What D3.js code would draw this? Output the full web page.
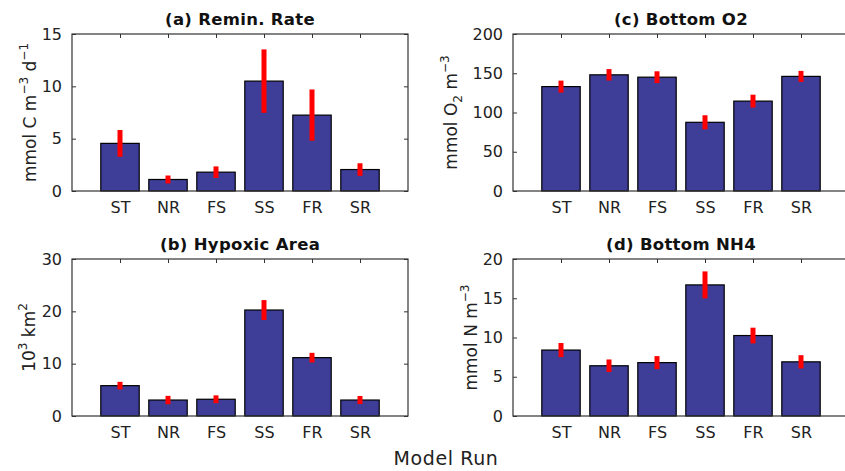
<!DOCTYPE html>
<html>
<head>
<meta charset="utf-8">
<script src="https://cdn.jsdelivr.net/npm/d3@7"></script>
<style>
  html, body { margin: 0; padding: 0; background: #fff; }
  svg { display: block; font-family: "DejaVu Sans", sans-serif; }
</style>
</head>
<body>
<svg id="chart" width="845" height="471"></svg>
<script>
// model runs on the x axis
var runs = ['ST', 'NR', 'FS', 'SS', 'FR', 'SR'];

// (a) remineralization rate, mmol C m-3 d-1
var reminMean = [4.55, 1.1, 1.8, 10.5, 7.25, 2.05];
var reminErr  = [1.28, 0.38, 0.55, 3.03, 2.45, 0.6];
// (b) hypoxic area, 10^3 km2
var hypoxMean = [5.8, 3.05, 3.2, 20.25, 11.15, 3.05];
var hypoxErr  = [0.73, 0.8, 0.75, 1.9, 0.92, 0.77];
// (c) bottom O2, mmol O2 m-3
var o2Mean = [133, 148, 145, 87.5, 114.5, 146];
var o2Err  = [7.6, 7.3, 7.5, 9, 8.2, 7];
// (d) bottom NH4, mmol N m-3
var nh4Mean = [8.4, 6.4, 6.8, 16.7, 10.25, 6.9];
var nh4Err  = [0.9, 0.8, 0.83, 1.72, 1.0, 0.85];

var yTicksA = [0, 5, 10, 15],
    yTicksB = [0, 10, 20, 30],
    yTicksC = [0, 50, 100, 150, 200],
    yTicksD = [0, 5, 10, 15, 20];

var svg = d3.select('#chart'),
    barColor = '#3e3e99',
    errColor = '#ff0000',
    boxColor = '#333';

// panel sizes
var pw = 336, ph = 157;

var panels = [
  { title: '(a) Remin. Rate', left: 72, top: 34, mean: reminMean, err: reminErr, ticks: yTicksA,
    label: [['mmol C m'], ['\u22123', 'sup'], [' d'], ['\u22121', 'sup']], lx: 36 },
  { title: '(b) Hypoxic Area', left: 72, top: 259, mean: hypoxMean, err: hypoxErr, ticks: yTicksB,
    label: [['10'], ['3', 'sup'], [' km'], ['2', 'sup']], lx: 35 },
  { title: '(c) Bottom O2', left: 513, top: 34, mean: o2Mean, err: o2Err, ticks: yTicksC,
    label: [['mmol O'], ['2', 'sub'], [' m'], ['\u22123', 'sup']], lx: 457 },
  { title: '(d) Bottom NH4', left: 513, top: 259, mean: nh4Mean, err: nh4Err, ticks: yTicksD,
    label: [['mmol N m'], ['\u22123', 'sup']], lx: 477 }
];

panels.forEach(function(p) {
  var g = svg.append('g').attr('transform', 'translate(' + p.left + ',' + p.top + ')');

  var x = d3.scaleLinear().domain([0, 7]).range([0, pw]),
      y = d3.scaleLinear().domain([p.ticks[0], p.ticks[p.ticks.length - 1]]).range([ph, 0]),
      bw = x(0.8) - x(0);

  // bars
  g.selectAll('rect.bar')
    .data(p.mean)
    .enter().append('rect')
    .attr('class', 'bar')
    .attr('x', function(d, i) { return x(i + 1) - bw / 2; })
    .attr('y', function(d) { return y(d); })
    .attr('width', bw)
    .attr('height', function(d) { return ph - y(d); })
    .attr('fill', barColor)
    .attr('stroke', '#000')
    .attr('stroke-width', 1.2);

  // error bars
  g.selectAll('line.err')
    .data(p.mean)
    .enter().append('line')
    .attr('class', 'err')
    .attr('x1', function(d, i) { return x(i + 1); })
    .attr('x2', function(d, i) { return x(i + 1); })
    .attr('y1', function(d, i) { return y(d + p.err[i]); })
    .attr('y2', function(d, i) { return y(d - p.err[i]); })
    .attr('stroke', errColor)
    .attr('stroke-width', 5);

  // y axis left, ticks inward
  var yAxis = d3.axisLeft(y).tickValues(p.ticks).tickSizeInner(-4).tickSizeOuter(0).tickPadding(10);
  var ga = g.append('g').call(yAxis);
  ga.select('.domain').remove();
  ga.selectAll('.tick line').attr('stroke', boxColor);
  ga.selectAll('text').attr('font-size', 16).attr('fill', '#222')
    .attr('font-family', '"DejaVu Sans", sans-serif');

  // right side ticks
  var gr = g.append('g').attr('transform', 'translate(' + pw + ',0)')
    .call(d3.axisRight(y).tickValues(p.ticks).tickSizeInner(-4).tickSizeOuter(0).tickFormat(''));
  gr.select('.domain').remove();
  gr.selectAll('.tick line').attr('stroke', boxColor);

  // x axis
  var xAxis = d3.axisBottom(x).tickValues(d3.range(1, runs.length + 1))
    .tickFormat(function(d) { return runs[d - 1]; }).tickSize(0).tickPadding(11);
  var gx = g.append('g').attr('transform', 'translate(0,' + ph + ')').call(xAxis);
  gx.select('.domain').remove();
  gx.selectAll('text').attr('font-size', 16).attr('fill', '#222')
    .attr('font-family', '"DejaVu Sans", sans-serif');

  // top ticks
  var gt = g.append('g')
    .call(d3.axisTop(x).tickValues(d3.range(1, runs.length + 1)).tickSizeInner(-4).tickSizeOuter(0).tickFormat(''));
  gt.select('.domain').remove();
  gt.selectAll('.tick line').attr('stroke', boxColor);

  // box
  g.append('rect')
    .attr('width', pw).attr('height', ph)
    .attr('fill', 'none').attr('stroke', boxColor).attr('stroke-width', 1.2);

  // title
  g.append('text')
    .attr('x', pw / 2).attr('y', -9)
    .attr('text-anchor', 'middle')
    .attr('font-size', 16.5).attr('font-weight', 'bold').attr('fill', '#111')
    .attr('letter-spacing', 0.3)
    .text(p.title);

  // y label with super/subscripts
  var t = svg.append('text')
    .attr('transform', 'translate(' + p.lx + ',' + (p.top + ph / 2) + ') rotate(-90)')
    .attr('text-anchor', 'middle')
    .attr('font-size', 17).attr('fill', '#222');
  p.label.forEach(function(part) {
    var s = t.append('tspan').text(part[0]);
    if (part[1]) s.attr('font-size', 12).attr('data-shift', part[1]);
  });
  // shift super/subscripts and put the baseline back after them
  t.selectAll('tspan').each(function(d, i, nodes) {
    var prev = i > 0 ? nodes[i - 1].getAttribute('data-shift') : null,
        cur = this.getAttribute('data-shift'),
        dy = 0;
    if (prev == 'sup') dy += 8;
    if (prev == 'sub') dy -= 5;
    if (cur == 'sup') dy -= 8;
    if (cur == 'sub') dy += 5;
    d3.select(this).attr('dy', dy);
  });
});

// shared x label
svg.append('text')
  .attr('x', 446).attr('y', 465)
  .attr('text-anchor', 'middle')
  .attr('font-size', 19).attr('fill', '#222')
  .attr('letter-spacing', 0.6)
  .text('Model Run');
</script>
</body>
</html>
